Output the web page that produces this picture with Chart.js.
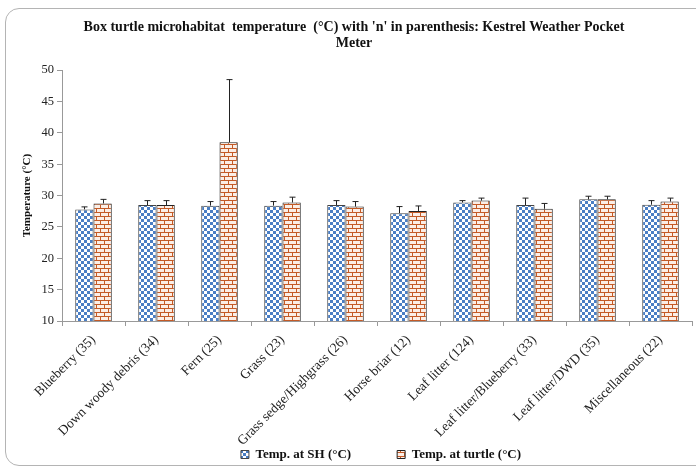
<!DOCTYPE html>
<html lang="en">
<head>
    <meta charset="UTF-8">
    <title>Box turtle microhabitat temperature</title>
    <script src="https://cdn.jsdelivr.net/npm/chart.js"></script>
    <style>
        body { margin: 0; background: #fff; }
        .wrap { position: relative; width: 696px; height: 468px; overflow: hidden; }
        .frame { position: absolute; left: 5px; top: 8px; width: 760px; height: 456px; border: 1px solid #b4b4b4; border-radius: 14px; }
        canvas { position: absolute; left: 0; top: 0; }
    </style>
</head>
<body>
    <div class="wrap">
        <div class="frame"></div>
        <canvas id="tempChart" width="696" height="468"></canvas>
    </div>

    <script>
        const habitats = ['Blueberry (35)', 'Down woody debris (34)', 'Fern (25)', 'Grass (23)', 'Grass sedge/Highgrass (26)',
            'Horse briar (12)', 'Leaf litter (124)', 'Leaf litter/Blueberry (33)', 'Leaf litter/DWD (35)', 'Miscellaneous (22)'];
        const tempSH = [27.8, 28.5, 28.4, 28.4, 28.5, 27.2, 28.9, 28.5, 29.4, 28.55];
        const errSH = [0.4, 0.7, 0.65, 0.65, 0.7, 1.05, 0.3, 1.1, 0.5, 0.65];
        const tempTurtle = [28.75, 28.5, 38.5, 28.9, 28.25, 27.55, 29.2, 27.9, 29.4, 29.05];
        const errTurtle = [0.65, 0.7, 10.0, 0.85, 0.8, 0.8, 0.4, 0.85, 0.5, 0.55];
        const yTicks = [10, 15, 20, 25, 30, 35, 40, 45, 50];

        const serif = "'Liberation Serif', 'Times New Roman', serif";

        function checkerPattern() {
            const c = document.createElement('canvas');
            c.width = 6; c.height = 6;
            const g = c.getContext('2d');
            g.fillStyle = '#ffffff';
            g.fillRect(0, 0, 6, 6);
            g.fillStyle = '#4a7ec4';
            g.fillRect(0, 0, 3, 3);
            g.fillRect(3, 3, 3, 3);
            return g.createPattern(c, 'repeat');
        }

        function brickPattern() {
            const c = document.createElement('canvas');
            c.width = 8; c.height = 8;
            const g = c.getContext('2d');
            g.fillStyle = '#fbeee6';
            g.fillRect(0, 0, 8, 8);
            g.fillStyle = '#c45a26';
            g.fillRect(0, 0, 8, 1);
            g.fillRect(0, 4, 8, 1);
            g.fillRect(0, 0, 1, 4);
            g.fillRect(4, 4, 1, 4);
            return g.createPattern(c, 'repeat');
        }

        // only the upper half of each error bar is shown, like the original
        const errorBars = {
            id: 'errorBars',
            afterDatasetsDraw(chart) {
                const ctx = chart.ctx;
                const y = chart.scales.y;
                const errs = [errSH, errTurtle];
                ctx.save();
                ctx.strokeStyle = '#222';
                ctx.lineWidth = 1;
                chart.data.datasets.forEach((ds, i) => {
                    chart.getDatasetMeta(i).data.forEach((bar, j) => {
                        const top = y.getPixelForValue(ds.data[j] + errs[i][j]);
                        const x = Math.round(bar.x) + 0.5;
                        ctx.beginPath();
                        ctx.moveTo(x, bar.y);
                        ctx.lineTo(x, top);
                        ctx.moveTo(x - 3, top);
                        ctx.lineTo(x + 3, top);
                        ctx.stroke();
                    });
                });
                ctx.restore();
            }
        };

        // nudge title and legend to where the original has them
        const nudge = {
            id: 'nudge',
            afterLayout(chart) {
                const t = chart.titleBlock;
                t.left += 8; t.right += 8;
                const lg = chart.legend;
                lg.left += 35; lg.right += 35;
                lg.top = 402; lg.bottom = 468;
            }
        };

        new Chart(document.getElementById('tempChart'), {
            type: 'bar',
            data: {
                labels: habitats,
                datasets: [
                    {
                        label: 'Temp. at SH (°C)',
                        data: tempSH,
                        backgroundColor: checkerPattern(),
                        borderColor: '#444',
                        borderWidth: 1
                    },
                    {
                        label: 'Temp. at turtle (°C)',
                        data: tempTurtle,
                        backgroundColor: brickPattern(),
                        borderColor: '#222',
                        borderWidth: 1
                    }
                ]
            },
            options: {
                responsive: false,
                animation: false,
                categoryPercentage: 0.58,
                barPercentage: 1.0,
                layout: { padding: { left: 0, right: 4, top: 0, bottom: 0 } },
                scales: {
                    x: {
                        grid: { display: true, drawOnChartArea: false, tickLength: 5, color: '#999', offset: true },
                        border: { color: '#999' },
                        ticks: {
                            autoSkip: false, minRotation: 45, maxRotation: 45, color: '#222', padding: 6,
                            font: { family: serif, size: 13.5 }
                        },
                        afterFit(scale) { scale.height = 127; }
                    },
                    y: {
                        min: 10,
                        max: 50,
                        afterBuildTicks(scale) { scale.ticks = yTicks.map(v => ({ value: v })); },
                        grid: { display: true, drawOnChartArea: false, tickLength: 5, color: '#999' },
                        border: { color: '#999' },
                        ticks: { color: '#222', padding: 3, font: { family: serif, size: 12.5 } },
                        title: {
                            display: true, text: 'Temperature (°C)', color: '#111',
                            font: { family: serif, size: 11, weight: 'bold' }, padding: { top: 21, bottom: 0 }
                        },
                        afterFit(scale) { scale.width = 62; }
                    }
                },
                plugins: {
                    title: {
                        display: true,
                        text: ["Box turtle microhabitat  temperature  (°C) with 'n' in parenthesis: Kestrel Weather Pocket", 'Meter'],
                        color: '#111',
                        font: { family: serif, size: 14, weight: 'bold', lineHeight: 1.15 },
                        padding: { top: 19, bottom: 19 }
                    },
                    legend: {
                        position: 'bottom',
                        maxHeight: 20,
                        labels: {
                            color: '#111', boxWidth: 8, boxHeight: 8, padding: 46,
                            font: { family: serif, size: 13, weight: 'bold' }
                        }
                    },
                    tooltip: { enabled: false }
                }
            },
            plugins: [errorBars, nudge]
        });
    </script>
</body>
</html>
